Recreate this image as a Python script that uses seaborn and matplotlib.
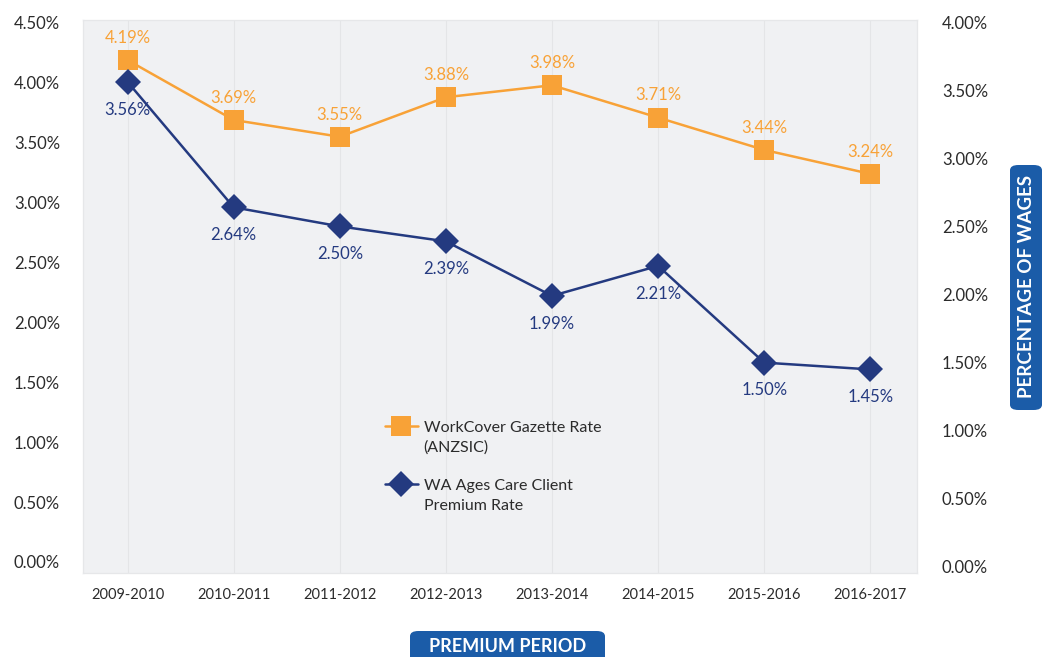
import numpy as np
import pandas as pd
import matplotlib.pyplot as plt
import seaborn as sns
from matplotlib.patches import FancyBboxPatch
from matplotlib.ticker import FuncFormatter

sns.set_style("white")
plt.rcParams['font.family'] = ['Lato', 'DejaVu Sans']

periods = ["2009-2010", "2010-2011", "2011-2012", "2012-2013",
           "2013-2014", "2014-2015", "2015-2016", "2016-2017"]
gazette_rate = [4.19, 3.69, 3.55, 3.88, 3.98, 3.71, 3.44, 3.24]
client_rate = [3.56, 2.64, 2.50, 2.39, 1.99, 2.21, 1.50, 1.45]
series_names = [("WorkCover Gazette Rate", "(ANZSIC)"),
                ("WA Ages Care Client", "Premium Rate")]

df = pd.DataFrame({"idx": np.arange(len(periods)), "period": periods,
                   "gazette": gazette_rate, "client": client_rate})

orange = "#f8a237"
navy = "#243a80"
box_blue = "#1b5ca8"
txt = "#2b2b2b"

W, H = 1047, 657
fig = plt.figure(figsize=(W / 100, H / 100), dpi=100)
ax = fig.add_axes([0.0793, 0.1279, 0.7965, 0.8417])
ax.set_facecolor("#f0f1f3")
ax2 = ax.twinx()

sns.lineplot(data=df, x="idx", y="gazette", ax=ax, color=orange, linewidth=1.8,
             marker="s", markersize=15, markeredgewidth=0,
             label=series_names[0][0], legend=False)
sns.lineplot(data=df, x="idx", y="client", ax=ax2, color=navy, linewidth=1.8,
             marker="D", markersize=13.5, markeredgewidth=0,
             label=series_names[1][0], legend=False)

for i, v in enumerate(gazette_rate):
    ax.annotate(f"{v:.2f}%", (i, v), xytext=(0, 16), textcoords="offset points",
                ha="center", va="center", color=orange, fontsize=12)
for i, v in enumerate(client_rate):
    ax2.annotate(f"{v:.2f}%", (i, v), xytext=(0, -20), textcoords="offset points",
                 ha="center", va="center", color=navy, fontsize=12)

ax.set_xlim(-0.42, 7.44)
ax.set_ylim(-0.092, 4.525)
ax2.set_ylim(-0.044, 4.015)
ax.set_yticks(np.arange(0, 4.51, 0.5))
ax2.set_yticks(np.arange(0, 4.01, 0.5))
pct = FuncFormatter(lambda v, p: f"{v:.2f}%")
ax.yaxis.set_major_formatter(pct)
ax2.yaxis.set_major_formatter(pct)
ax.set_xticks(df["idx"])
ax.set_xticklabels(periods)

ax.tick_params(axis="y", length=0, pad=16.5, labelsize=12, labelcolor=txt)
ax2.tick_params(axis="y", length=0, pad=18, labelsize=12, labelcolor=txt)
ax.tick_params(axis="x", length=0, pad=11, labelsize=10.5, labelcolor=txt)
ax.set_xlabel("")
ax.set_ylabel("")
ax2.set_ylabel("")

ax.grid(axis="x", color="#e4e5e7", linewidth=0.8)
ax.grid(axis="y", visible=False)
ax2.grid(False)
for a in (ax, ax2):
    for s in a.spines.values():
        s.set_color("#e6e7e9")
        s.set_linewidth(0.8)

# legend: handle sits next to the first line, second line hangs below
h1, l1 = ax.get_legend_handles_labels()
h2, l2 = ax2.get_legend_handles_labels()
leg = ax2.legend(h1 + h2, l1 + l2, loc="upper left", bbox_to_anchor=(0.352, 0.29),
                 frameon=False, fontsize=11.5, handlelength=2.1, handletextpad=0.35,
                 labelspacing=2.75, borderpad=0)
fig.canvas.draw()
for t, (_, second) in zip(leg.get_texts(), series_names):
    t.set_color(txt)
    bb = t.get_window_extent()
    fig.text(bb.x0 / W, (bb.y0 - 20) / H, second, fontsize=11.5, color=txt,
             ha="left", va="bottom")

# blue label boxes
fig.add_artist(FancyBboxPatch((1010 / W, 1 - 410 / H), 32 / W, 245 / H,
                              boxstyle="round,pad=0,rounding_size=0.008",
                              transform=fig.transFigure, fc=box_blue, ec="none"))
fig.text(1026 / W, 1 - 287 / H, "PERCENTAGE OF WAGES", rotation=90, ha="center",
         va="center", color="white", fontsize=13.5, fontweight="bold")
fig.add_artist(FancyBboxPatch((410 / W, 1 - 670 / H), 195 / W, 39 / H,
                              boxstyle="round,pad=0,rounding_size=0.008",
                              transform=fig.transFigure, fc=box_blue, ec="none"))
fig.text(508 / W, 1 - 647 / H, "PREMIUM PERIOD", ha="center", va="center",
         color="white", fontsize=13, fontweight="bold")

fig.savefig("out.png", dpi=100)
